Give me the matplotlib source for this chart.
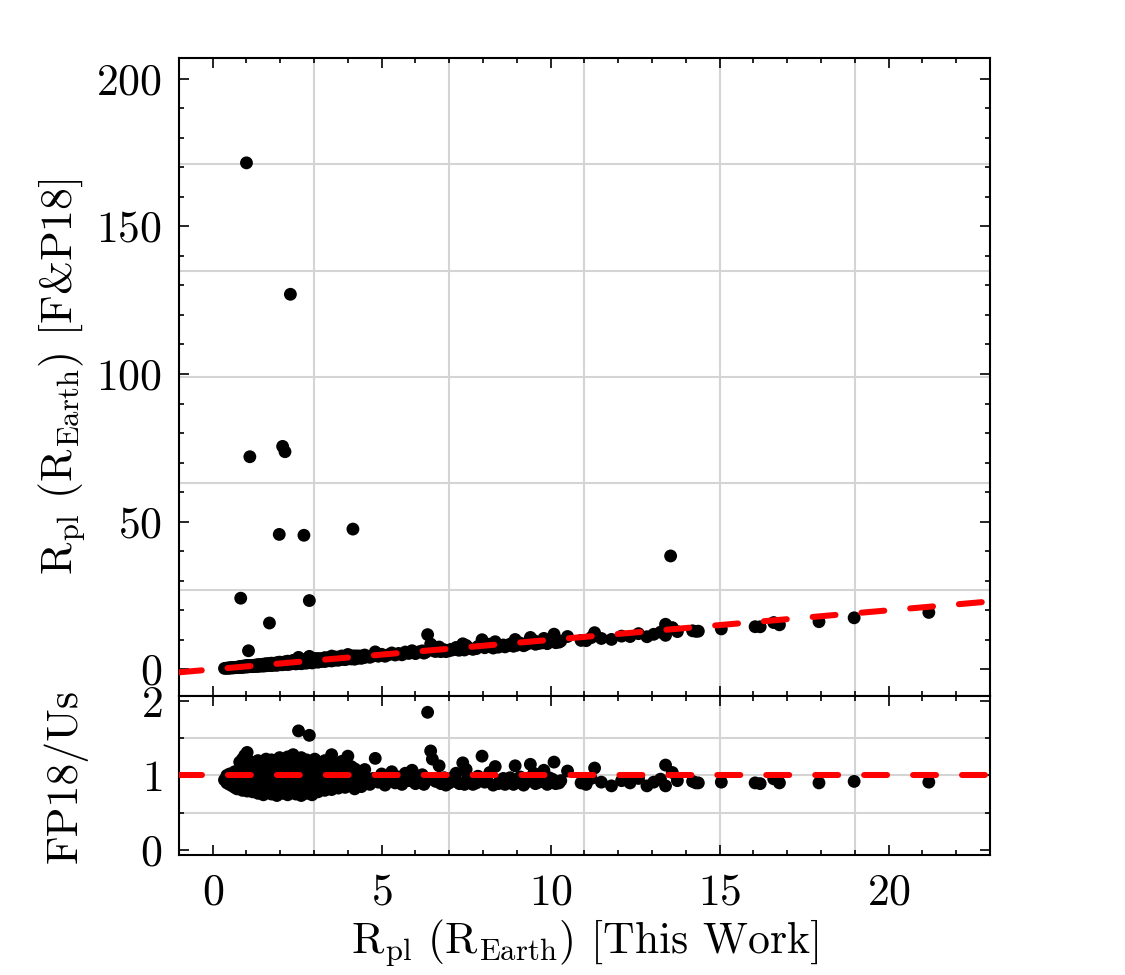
import numpy as np
import matplotlib
matplotlib.use("Agg")
import matplotlib.pyplot as plt
from matplotlib.ticker import MultipleLocator

plt.rcParams['mathtext.fontset'] = 'cm'
plt.rcParams['font.family'] = 'serif'
plt.rcParams['font.serif'] = ['cmr10', 'DejaVu Serif']
plt.rcParams['axes.formatter.use_mathtext'] = True

# ---------------- data ----------------
# dense small-planet cluster: radius from this work and FP18/Us ratio
us_cluster = [0.35, 0.42, 0.42, 0.5, 0.5, 0.5, 0.58, 0.58, 0.58,
              0.65, 0.65, 0.65, 0.65, 0.72, 0.72, 0.72, 0.72,
              0.8, 0.8, 0.8, 0.8, 0.8, 0.88, 0.88, 0.88, 0.88, 0.88, 0.88,
              0.95, 0.95, 0.95, 0.95, 0.95, 1.02, 1.02, 1.02, 1.02, 1.02, 1.02,
              1.1, 1.1, 1.1, 1.1, 1.1, 1.18, 1.18, 1.18, 1.18, 1.18,
              1.26, 1.26, 1.26, 1.26, 1.26, 1.34, 1.34, 1.34, 1.34, 1.34, 1.34,
              1.42, 1.42, 1.42, 1.42, 1.42, 1.5, 1.5, 1.5, 1.5, 1.5, 1.5,
              1.58, 1.58, 1.58, 1.58, 1.58, 1.58, 1.66, 1.66, 1.66, 1.66, 1.66,
              1.74, 1.74, 1.74, 1.74, 1.74, 1.74, 1.82, 1.82, 1.82, 1.82, 1.82,
              1.9, 1.9, 1.9, 1.9, 1.9, 1.9, 1.98, 1.98, 1.98, 1.98, 1.98, 1.98,
              2.06, 2.06, 2.06, 2.06, 2.06, 2.14, 2.14, 2.14, 2.14, 2.14,
              2.22, 2.22, 2.22, 2.22, 2.22, 2.22, 2.3, 2.3, 2.3, 2.3, 2.3,
              2.38, 2.38, 2.38, 2.38, 2.38, 2.46, 2.46, 2.46, 2.46, 2.46, 2.46,
              2.54, 2.54, 2.54, 2.54, 2.54, 2.62, 2.62, 2.62, 2.62, 2.62, 2.62,
              2.7, 2.7, 2.7, 2.7, 2.7, 2.78, 2.78, 2.78, 2.78, 2.78,
              2.86, 2.86, 2.86, 2.86, 2.86, 2.94, 2.94, 2.94, 2.94, 2.94,
              3.02, 3.02, 3.02, 3.02, 3.02, 3.12, 3.12, 3.12, 3.12, 3.12,
              3.22, 3.22, 3.22, 3.22, 3.32, 3.32, 3.32, 3.32, 3.32,
              3.42, 3.42, 3.42, 3.42, 3.52, 3.52, 3.52, 3.52, 3.52,
              3.62, 3.62, 3.62, 3.62, 3.72, 3.72, 3.72, 3.72,
              3.82, 3.82, 3.82, 3.82, 3.92, 3.92, 3.92, 3.92,
              4.0, 4.0, 4.0, 4.1, 4.1, 4.1, 4.1, 4.2, 4.2, 4.2, 4.2,
              4.3, 4.3, 4.3, 4.4, 4.4, 4.4, 4.5, 4.5, 4.5]
ratio_cluster = [0.94, 0.90, 1.00, 0.88, 0.95, 1.02, 0.86, 0.93, 1.00,
                 0.84, 0.91, 0.98, 1.05, 0.82, 0.88, 0.96, 1.03,
                 0.83, 0.90, 0.97, 1.08, 1.18, 0.80, 0.87, 0.94, 1.01, 1.12, 1.22,
                 0.85, 0.92, 0.99, 1.06, 1.27, 0.79, 0.88, 0.96, 1.04, 1.15, 1.31,
                 0.83, 0.90, 0.98, 1.10, 1.19, 0.78, 0.86, 0.94, 1.02, 1.13,
                 0.80, 0.89, 0.97, 1.07, 1.16, 0.76, 0.84, 0.92, 1.00, 1.10, 1.20,
                 0.79, 0.87, 0.95, 1.04, 1.14, 0.74, 0.83, 0.91, 0.99, 1.08, 1.18,
                 0.77, 0.86, 0.94, 1.02, 1.12, 1.22, 0.80, 0.89, 0.97, 1.06, 1.16,
                 0.75, 0.84, 0.92, 1.01, 1.10, 1.21, 0.78, 0.87, 0.95, 1.04, 1.13,
                 0.73, 0.82, 0.90, 0.98, 1.08, 1.19, 0.79, 0.88, 0.96, 1.05, 1.15, 1.24,
                 0.76, 0.85, 0.93, 1.01, 1.11, 0.81, 0.90, 0.99, 1.09, 1.20,
                 0.74, 0.84, 0.92, 1.03, 1.14, 1.25, 0.78, 0.87, 0.95, 1.06, 1.17,
                 0.82, 0.91, 1.00, 1.12, 1.28, 0.75, 0.85, 0.94, 1.04, 1.15, 1.22,
                 0.80, 0.89, 0.98, 1.09, 1.60, 0.73, 0.83, 0.92, 1.02, 1.13, 1.24,
                 0.79, 0.88, 0.97, 1.07, 1.18, 0.76, 0.86, 0.95, 1.05, 1.21,
                 0.81, 0.90, 0.99, 1.10, 1.54, 0.74, 0.84, 0.93, 1.03, 1.16,
                 0.82, 0.91, 1.00, 1.12, 1.22, 0.78, 0.87, 0.96, 1.07, 1.18,
                 0.83, 0.92, 1.01, 1.13, 0.80, 0.89, 0.98, 1.09, 1.20,
                 0.85, 0.94, 1.04, 1.15, 0.81, 0.90, 0.99, 1.11, 1.28,
                 0.86, 0.95, 1.06, 1.16, 0.83, 0.92, 1.02, 1.12,
                 0.88, 0.97, 1.08, 1.19, 0.84, 0.93, 1.03, 1.14,
                 0.89, 0.98, 1.26, 0.86, 0.95, 1.05, 1.12, 0.82, 0.91, 1.00, 1.09,
                 0.88, 0.97, 1.06, 0.85, 0.94, 1.03, 0.90, 0.99, 1.08]

# intermediate / large planets
us_mid = [4.65, 4.75, 4.81, 4.9, 5.0, 5.1, 5.2, 5.3, 5.4, 5.5, 5.6, 5.7, 5.8,
          5.9, 6.0, 6.1, 6.2, 6.25, 6.3, 6.36, 6.45, 6.5, 6.55, 6.6, 6.7,
          6.75, 6.85, 6.9, 7.0, 7.05, 7.1, 7.2, 7.25, 7.3, 7.4, 7.45, 7.5,
          7.55, 7.6, 7.7, 7.8, 7.85, 7.97, 8.05, 8.1, 8.2, 8.3, 8.36, 8.45,
          8.5, 8.6, 8.65, 8.75, 8.8, 8.9, 8.95, 9.0, 9.1, 9.2, 9.25, 9.35,
          9.4, 9.5, 9.55, 9.65, 9.75, 9.8, 9.9, 9.95, 10.05, 10.1, 10.15,
          10.25, 10.3, 10.5, 10.9, 11.05, 11.2, 11.3, 11.5, 11.8, 12.1,
          12.35, 12.6, 12.85, 13.05, 13.25, 13.4, 13.4, 13.6, 13.75, 14.2,
          14.3, 14.37, 15.05, 16.05, 16.2, 16.6, 16.77, 17.94, 18.98, 21.19]
ratio_mid = [0.88, 0.96, 1.23, 0.91, 1.02, 0.87, 0.95, 1.05, 0.90, 0.98, 0.88,
             1.03, 0.93, 1.07, 0.89, 0.97, 1.01, 0.88, 0.92, 1.85, 1.33, 1.22,
             0.95, 0.92, 1.13, 0.89, 0.97, 0.87, 0.90, 0.96, 0.93, 1.03, 0.91,
             0.89, 1.17, 0.88, 1.08, 0.97, 0.94, 0.88, 0.90, 0.99, 1.26, 0.91,
             0.95, 1.04, 0.87, 1.12, 0.89, 0.93, 0.96, 0.88, 0.92, 0.97, 0.88,
             1.13, 0.91, 0.98, 0.87, 0.90, 0.94, 1.15, 1.03, 0.89, 0.91, 0.92,
             1.07, 0.88, 0.97, 0.95, 1.18, 0.89, 0.90, 0.93, 1.06, 0.90, 0.88,
             0.96, 1.10, 0.91, 0.86, 0.93, 0.90, 0.96, 0.86, 0.91, 0.95, 0.86,
             1.14, 1.04, 0.93, 0.92, 0.90, 0.90, 0.91, 0.90, 0.89, 0.955,
             0.90, 0.90, 0.92, 0.91]

# strong outliers (FP18 radius)
us_outlier = [1.0, 2.3, 1.1, 2.07, 2.14, 1.97, 2.70, 4.15, 13.55,
              0.83, 2.86, 1.68, 1.06]
fp18_outlier = [171.5, 127.0, 72.0, 75.5, 73.7, 45.7, 45.4, 47.5, 38.4,
                24.1, 23.3, 15.7, 6.3]

# ---------------- assemble ----------------
rpl_us = np.concatenate([us_cluster, us_mid, us_outlier])
rpl_fp18 = np.concatenate([np.array(us_cluster) * np.array(ratio_cluster),
                           np.array(us_mid) * np.array(ratio_mid),
                           fp18_outlier])
ratio = rpl_fp18 / rpl_us

xlim = (-1, 23)
ylim_top = (-9, 207)
ylim_bot = (-0.07, 2.07)

fig = plt.figure(figsize=(7.5, 6.5), dpi=150)
ax1 = fig.add_axes([0.159, 0.2862, 0.721, 0.6543])
ax2 = fig.add_axes([0.159, 0.1231, 0.721, 0.1631], sharex=ax1)

grid_kw = dict(color='#d4d4d4', lw=1.0, zorder=0)
line_kw = dict(color='red', lw=2.9, dashes=(3.8, 4.3), dash_capstyle='round',
               solid_capstyle='round', zorder=3)
pt_kw = dict(s=38, color='black', edgecolors='none', zorder=2)

FS = 21

# top panel
for v in np.linspace(*xlim, 7)[1:-1]:
    ax1.axvline(v, **grid_kw)
for v in np.linspace(*ylim_top, 7)[1:-1]:
    ax1.axhline(v, **grid_kw)
ax1.scatter(rpl_us, rpl_fp18, **pt_kw)
ax1.plot(xlim, xlim, **line_kw)
ax1.set_xlim(*xlim)
ax1.set_ylim(*ylim_top)
ax1.yaxis.set_major_locator(MultipleLocator(50))
ax1.yaxis.set_minor_locator(MultipleLocator(10))
ax1.set_ylabel(r'R$_{\rm pl}$ (R$_{\rm Earth}$) [F&P18]', fontsize=FS)

# bottom panel
for v in np.linspace(*xlim, 7)[1:-1]:
    ax2.axvline(v, **grid_kw)
for v in (0.5, 1.0, 1.5):
    ax2.axhline(v, **grid_kw)
ax2.scatter(rpl_us, ratio, **pt_kw)
ax2.plot(xlim, (1, 1), **line_kw)
ax2.set_ylim(*ylim_bot)
ax2.yaxis.set_major_locator(MultipleLocator(1))
ax2.yaxis.set_minor_locator(MultipleLocator(0.5))
ax2.xaxis.set_major_locator(MultipleLocator(5))
ax2.xaxis.set_minor_locator(MultipleLocator(1))
ax2.set_xlabel(r'R$_{\rm pl}$ (R$_{\rm Earth}$) [This Work]', fontsize=FS,
               labelpad=2)
ax2.set_ylabel('FP18/Us', fontsize=FS)

for ax in (ax1, ax2):
    for s in ax.spines.values():
        s.set_linewidth(1.0)
    ax.tick_params(which='both', direction='in', top=True, right=True,
                   width=0.8, labelsize=FS)
    ax.tick_params(which='major', length=5.0)
    ax.tick_params(which='minor', length=2.5)
    ax.tick_params(axis='y', which='both', pad=8)
ax2.tick_params(axis='x', which='both', pad=9)
ax1.tick_params(labelbottom=False)

ax1.yaxis.set_label_coords(-0.112, 0.5)
ax2.yaxis.set_label_coords(-0.112, 0.5)

fig.savefig('out.png', dpi=150)
